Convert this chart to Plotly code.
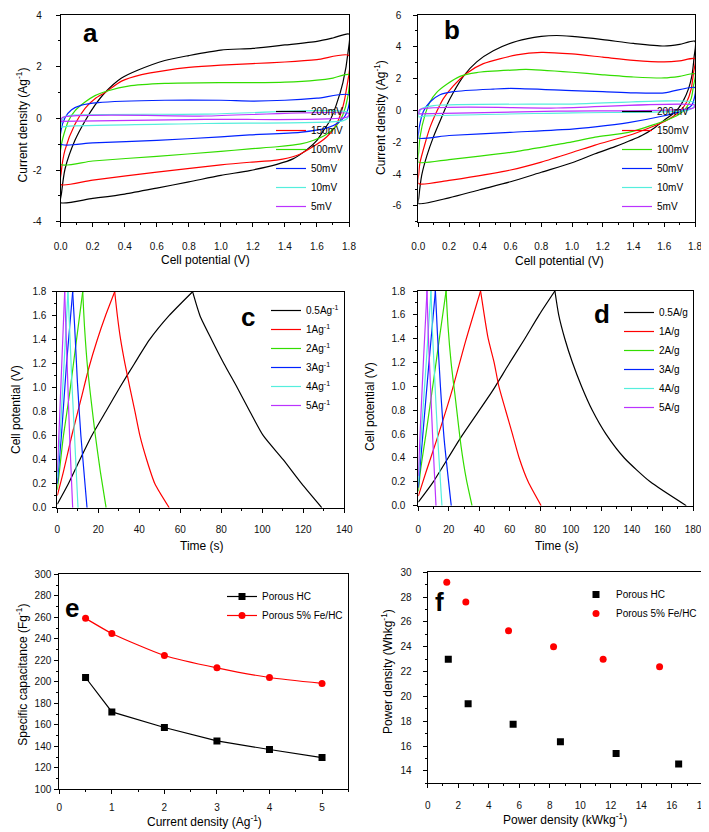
import plotly.graph_objects as go

W, H = 709, 832          # target window
OFF = 8                  # page body margin offsets the figure by 8 px
PW, PH = W - OFF, H - OFF
FONT = "Arial, 'Liberation Sans', sans-serif"

# ---------------- Panel a : CV, Porous HC ----------------
A_LABELS = ["200mV", "150mV", "100mV", "50mV", "10mV", "5mV"]
A_200_V = [0, 0.005, 0.027, 0.089, 0.152, 0.214, 0.277, 0.38, 0.484, 0.65, 0.8, 1.0, 1.2, 1.4, 1.6, 1.7, 1.8,
           1.795, 1.762, 1.72, 1.68, 1.64, 1.6, 1.535, 1.45, 1.35, 1.18, 1.0, 0.8, 0.6, 0.4, 0.2, 0]
A_200_I = [-3.26, -2.9, -1.96, -0.85, -0.1, 0.51, 1.0, 1.56, 1.87, 2.24, 2.43, 2.64, 2.71, 2.84, 2.98, 3.11, 3.26,
           2.6, 1.38, 0.51, -0.1, -0.48, -0.85, -1.22, -1.57, -1.78, -2.02, -2.21, -2.46, -2.70, -2.93, -3.1, -3.26]
A_150_V = [0, 0.003, 0.027, 0.089, 0.152, 0.214, 0.277, 0.38, 0.505, 0.65, 0.8, 1.0, 1.2, 1.4, 1.6, 1.8,
           1.784, 1.753, 1.711, 1.66, 1.577, 1.473, 1.348, 1.18, 1.0, 0.6, 0.2, 0]
A_150_I = [-2.56, -2.1, -1.22, -0.23, 0.39, 0.76, 1.0, 1.44, 1.69, 1.85, 1.97, 2.06, 2.12, 2.18, 2.27, 2.43,
           1.13, 0.26, -0.35, -0.72, -1.09, -1.44, -1.62, -1.70, -1.8, -2.08, -2.39, -2.56]
A_100_V = [0, 0.006, 0.048, 0.089, 0.152, 0.214, 0.297, 0.422, 0.65, 1.0, 1.2, 1.4, 1.6, 1.7, 1.8,
           1.79, 1.762, 1.72, 1.66, 1.58, 1.5, 1.35, 1.18, 1.0, 0.6, 0.2, 0]
A_100_I = [-1.78, -0.97, -0.1, 0.29, 0.63, 0.88, 1.07, 1.25, 1.35, 1.38, 1.38, 1.40, 1.48, 1.56, 1.69,
           0.76, 0.14, -0.3, -0.62, -0.85, -0.99, -1.1, -1.18, -1.28, -1.47, -1.65, -1.78]
A_50_V = [0, 0.002, 0.027, 0.068, 0.13, 0.234, 0.65, 1.0, 1.2, 1.4, 1.6, 1.8,
          1.795, 1.774, 1.733, 1.66, 1.493, 1.18, 1.0, 0.6, 0.2, 0]
A_50_I = [-1.0, -0.48, 0.02, 0.33, 0.51, 0.61, 0.70, 0.70, 0.67, 0.70, 0.78, 0.91,
          0.39, 0.08, -0.17, -0.38, -0.54, -0.64, -0.72, -0.85, -0.95, -1.0]
A_10_V = [0, 0.02, 0.06, 0.9, 1.8, 1.79, 1.76, 0.9, 0.05, 0]
A_10_I = [-0.33, 0.05, 0.12, 0.16, 0.22, 0.0, -0.1, -0.2, -0.3, -0.33]
A_5_V = [0, 0.01, 0.9, 1.8, 1.79, 0.9, 0]
A_5_I = [-0.14, 0.03, 0.09, 0.18, 0.05, -0.04, -0.12]

# ---------------- Panel b : CV, Porous 5% Fe/HC ----------------
B_200_V = [0, 0.003, 0.022, 0.055, 0.098, 0.141, 0.185, 0.228, 0.293, 0.38, 0.488, 0.64, 0.8, 0.9, 1.0, 1.2, 1.4, 1.6, 1.7, 1.8,
           1.794, 1.779, 1.757, 1.725, 1.692, 1.649, 1.605, 1.54, 1.454, 1.28, 1.15, 1.0, 0.8, 0.6, 0.4, 0.2, 0]
B_200_I = [-5.86, -5.5, -4.09, -2.88, -1.68, -0.68, 0.33, 1.13, 2.14, 3.05, 3.75, 4.35, 4.65, 4.71, 4.65, 4.45, 4.21, 4.05, 4.15, 4.35,
           3.35, 2.14, 1.34, 0.63, 0.13, -0.27, -0.57, -1.07, -1.58, -2.28, -2.73, -3.29, -3.89, -4.49, -4.99, -5.5, -5.86]
B_150_V = [0, 0.003, 0.011, 0.044, 0.076, 0.12, 0.163, 0.228, 0.315, 0.423, 0.64, 0.8, 1.0, 1.2, 1.4, 1.6, 1.7, 1.8,
           1.79, 1.775, 1.746, 1.709, 1.66, 1.605, 1.497, 1.367, 1.15, 1.0, 0.8, 0.6, 0.4, 0.2, 0]
B_150_I = [-4.6, -4.0, -3.29, -2.08, -1.07, -0.07, 0.74, 1.54, 2.34, 2.94, 3.49, 3.65, 3.55, 3.35, 3.15, 3.05, 3.11, 3.25,
           2.34, 1.34, 0.53, 0.03, -0.37, -0.68, -1.12, -1.58, -2.18, -2.65, -3.25, -3.75, -4.1, -4.4, -4.6]
B_100_V = [0, 0.003, 0.011, 0.044, 0.076, 0.12, 0.185, 0.271, 0.38, 0.64, 0.7, 1.0, 1.2, 1.4, 1.6, 1.7, 1.8,
           1.79, 1.775, 1.74, 1.692, 1.627, 1.54, 1.367, 1.15, 1.0, 0.8, 0.6, 0.4, 0.2, 0]
B_100_I = [-3.25, -2.6, -1.68, -0.27, 0.53, 1.13, 1.64, 2.14, 2.38, 2.55, 2.58, 2.4, 2.24, 2.1, 2.04, 2.14, 2.3,
           1.54, 0.74, 0.13, -0.27, -0.57, -0.87, -1.38, -1.68, -1.98, -2.32, -2.64, -2.88, -3.09, -3.25]
B_50_V = [0, 0.002, 0.006, 0.033, 0.076, 0.141, 0.228, 0.488, 0.6, 1.0, 1.2, 1.4, 1.6, 1.8,
          1.797, 1.779, 1.746, 1.692, 1.584, 1.367, 1.15, 1.0, 0.6, 0.2, 0]
B_50_I = [-1.74, -1.4, -1.07, -0.07, 0.53, 0.98, 1.18, 1.34, 1.38, 1.24, 1.18, 1.1, 1.1, 1.44,
          0.83, 0.33, 0.09, -0.11, -0.37, -0.77, -1.04, -1.18, -1.38, -1.58, -1.74]
B_10_V = [0, 0.02, 0.1, 1.0, 1.8, 1.79, 1.75, 1.0, 0.05, 0]
B_10_I = [-0.4, 0.1, 0.3, 0.4, 0.5, 0.2, 0.0, -0.15, -0.35, -0.4]
B_5_V = [0, 0.01, 0.9, 1.8, 1.79, 0.9, 0]
B_5_I = [-0.25, 0.05, 0.15, 0.33, 0.15, -0.05, -0.22]

# ---------------- Panel c : GCD, Porous HC ----------------
C_LABELS = ["0.5Ag<sup>-1</sup>", "1Ag<sup>-1</sup>", "2Ag<sup>-1</sup>", "3Ag<sup>-1</sup>", "4Ag<sup>-1</sup>", "5Ag<sup>-1</sup>"]
C_05_T = [0, 5.4, 11, 16.8, 23.6, 30.4, 37.6, 45, 54.5, 66, 69.6, 75.3, 81.3, 87.8, 94, 100.5, 110.2, 119.2, 129]
C_05_V = [0.03, 0.2, 0.4, 0.6, 0.8, 1.0, 1.2, 1.4, 1.6, 1.8, 1.6, 1.4, 1.2, 1.0, 0.8, 0.6, 0.4, 0.2, 0.0]
C_1_T = [0, 3, 7.2, 11.5, 15.3, 19.5, 23.5, 28, 29.3, 30.9, 33, 35.4, 37.9, 40.3, 43.6, 47.6, 54.6]
C_1_V = [0.1, 0.3, 0.61, 0.9, 1.16, 1.4, 1.6, 1.8, 1.6, 1.4, 1.2, 1.0, 0.8, 0.6, 0.4, 0.2, 0]
C_2_T = [0, 1, 3, 6, 9, 12.4, 13.3, 14.8, 16.6, 18.5, 21, 23.8]
C_2_V = [0.15, 0.3, 0.6, 0.95, 1.35, 1.8, 1.5, 1.16, 0.88, 0.61, 0.3, 0]
C_3_T = [0, 2, 4.5, 7.5, 8.5, 9.8, 11.5, 14.5]
C_3_V = [0.2, 0.6, 1.2, 1.8, 1.5, 1.05, 0.6, 0]
C_4_T = [0, 1.5, 3.3, 5.2, 6, 7.1, 8.4, 10.1]
C_4_V = [0.25, 0.65, 1.2, 1.8, 1.5, 1.05, 0.6, 0]
C_5_T = [0, 1, 2.3, 3.6, 4.2, 5.1, 6, 7.5]
C_5_V = [0.3, 0.7, 1.25, 1.8, 1.5, 1.05, 0.6, 0]

# ---------------- Panel d : GCD, Porous 5% Fe/HC ----------------
D_LABELS = ["0.5A/g", "1A/g", "2A/g", "3A/g", "4A/g", "5A/g"]
D_05_T = [0, 9.8, 27.5, 48.5, 59, 69.8, 79.2, 89.5, 92, 96, 101, 107, 114, 123, 135, 152, 175.6]
D_05_V = [0.03, 0.2, 0.565, 0.96, 1.18, 1.4, 1.6, 1.8, 1.6, 1.4, 1.2, 1.0, 0.8, 0.6, 0.4, 0.2, 0]
D_1_T = [0, 5, 12, 22, 31, 40.8, 43.2, 45.8, 49.7, 52.8, 57.2, 61.7, 66.1, 72, 80.5]
D_1_V = [0.08, 0.28, 0.55, 0.96, 1.38, 1.8, 1.6, 1.4, 1.2, 1.0, 0.8, 0.6, 0.4, 0.2, 0]
D_2_T = [0, 1.5, 5, 10, 14, 18.2, 19.5, 21.5, 24.3, 28, 31.5, 35.2]
D_2_V = [0.12, 0.3, 0.6, 1.05, 1.42, 1.8, 1.5, 1.2, 0.9, 0.5, 0.22, 0]
D_3_T = [0, 3, 7, 11.2, 12.5, 14.5, 17, 21.6]
D_3_V = [0.15, 0.6, 1.2, 1.8, 1.45, 1.0, 0.55, 0]
D_4_T = [0, 2.2, 5.2, 8.3, 9.3, 11, 12.8, 15.5]
D_4_V = [0.2, 0.65, 1.2, 1.8, 1.45, 1.0, 0.55, 0]
D_5_T = [0, 1.5, 3.5, 5.7, 6.5, 8, 9.5, 11.6]
D_5_V = [0.25, 0.7, 1.25, 1.8, 1.45, 1.0, 0.55, 0]

# ---------------- Panel e : specific capacitance ----------------
E_LABELS = ["Porous HC", "Porous 5% Fe/HC"]
E_CURRENT = [0.5, 1, 2, 3, 4, 5]
E_CAP_HC = [204, 172, 157.5, 145, 137, 129.5]
E_CAP_FE = [259, 245, 224.5, 213, 204, 198.5]

# ---------------- Panel f : Ragone ----------------
F_POWER_HC = [1.35, 2.65, 5.6, 8.7, 12.35, 16.45]
F_ENERGY_HC = [23, 19.4, 17.75, 16.35, 15.4, 14.55]
F_POWER_FE = [1.25, 2.5, 5.3, 8.25, 11.5, 15.2]
F_ENERGY_FE = [29.2, 27.6, 25.3, 24, 23, 22.4]

# tick labels
TICKS_A_Y = [-4, -2, 0, 2, 4]
TICKS_B_Y = [-6, -4, -2, 0, 2, 4, 6]

COLORS = ["#000000", "#FF0000", "#33DD00", "#0022FF", "#55EEDD", "#BB33FF"]

fig = go.Figure()


def ax_names(n):
    return ("x" if n == 1 else f"x{n}"), ("y" if n == 1 else f"y{n}")


def add_cv(xs, ys, labels, n, legend):
    xa, ya = ax_names(n)
    for x, y, lab, col in zip(xs, ys, labels, COLORS):
        fig.add_trace(go.Scatter(
            x=x, y=y, mode="lines", name=lab,
            line=dict(color=col, width=1.2, shape="spline", smoothing=0.7),
            xaxis=xa, yaxis=ya, legend=legend))


def add_gcd(xs, ys, labels, n, legend):
    xa, ya = ax_names(n)
    for x, y, lab, col in zip(xs, ys, labels, COLORS):
        k = y.index(max(y))
        for part, (px, py) in enumerate([(x[:k + 1], y[:k + 1]), (x[k:], y[k:])]):
            fig.add_trace(go.Scatter(
                x=px, y=py, mode="lines", name=lab, legendgroup=f"{legend}-{lab}",
                showlegend=(part == 0),
                line=dict(color=col, width=1.2, shape="spline", smoothing=0.6),
                xaxis=xa, yaxis=ya, legend=legend))


add_cv([A_200_V, A_150_V, A_100_V, A_50_V, A_10_V, A_5_V],
       [A_200_I, A_150_I, A_100_I, A_50_I, A_10_I, A_5_I], A_LABELS, 1, "legend")
add_cv([B_200_V, B_150_V, B_100_V, B_50_V, B_10_V, B_5_V],
       [B_200_I, B_150_I, B_100_I, B_50_I, B_10_I, B_5_I], A_LABELS, 2, "legend2")
add_gcd([C_05_T, C_1_T, C_2_T, C_3_T, C_4_T, C_5_T],
        [C_05_V, C_1_V, C_2_V, C_3_V, C_4_V, C_5_V], C_LABELS, 3, "legend3")
add_gcd([D_05_T, D_1_T, D_2_T, D_3_T, D_4_T, D_5_T],
        [D_05_V, D_1_V, D_2_V, D_3_V, D_4_V, D_5_V], D_LABELS, 4, "legend4")

fig.add_trace(go.Scatter(x=E_CURRENT, y=E_CAP_HC, mode="lines+markers", name=E_LABELS[0],
                         line=dict(color="black", width=1.2),
                         marker=dict(symbol="square", size=7, color="black"),
                         xaxis="x5", yaxis="y5", legend="legend5"))
fig.add_trace(go.Scatter(x=E_CURRENT, y=E_CAP_FE, mode="lines+markers", name=E_LABELS[1],
                         line=dict(color="#FF0000", width=1.2, shape="spline", smoothing=0.6),
                         marker=dict(symbol="circle", size=7, color="#FF0000"),
                         xaxis="x5", yaxis="y5", legend="legend5"))
fig.add_trace(go.Scatter(x=F_POWER_HC, y=F_ENERGY_HC, mode="markers", name=E_LABELS[0],
                         marker=dict(symbol="square", size=7, color="black"),
                         xaxis="x6", yaxis="y6", legend="legend6"))
fig.add_trace(go.Scatter(x=F_POWER_FE, y=F_ENERGY_FE, mode="markers", name=E_LABELS[1],
                         marker=dict(symbol="circle", size=7, color="#FF0000"),
                         xaxis="x6", yaxis="y6", legend="legend6"))


def px_x(p):
    return min(max((p - OFF) / PW, 0.0), 1.0)


def px_y(p):
    return min(max(1 - (p - OFF) / PH, 0.0), 1.0)


def axis(dom, rng, dtick, minor, standoff, anchor, fmt=None, tickvals=None, ticktext=None):
    d = dict(domain=dom, range=rng, anchor=anchor, showline=True, mirror=True,
             linecolor="black", linewidth=1, ticks="outside", ticklen=4, tickwidth=1,
             tickcolor="black", showgrid=False, zeroline=False, automargin=False,
             ticklabeloverflow="allow",
             tickfont=dict(family=FONT, size=10, color="#111"),
             minor=dict(ticks="outside", ticklen=2, tickwidth=1, tickcolor="black", dtick=minor),
             ticklabelstandoff=standoff)
    if tickvals is not None:
        d.update(tickmode="array", tickvals=tickvals, ticktext=ticktext)
    else:
        d.update(tick0=0, dtick=dtick)
    if fmt:
        d["tickformat"] = fmt
    return d


layout = dict(
    width=PW, height=PH, margin=dict(l=0, r=0, t=0, b=0, pad=0, autoexpand=False), autosize=False,
    paper_bgcolor="white", plot_bgcolor="white", font=dict(family=FONT, color="black"),
)

# panel a
layout["xaxis"] = axis([px_x(60.7), px_x(349)], [0, 1.8], 0.2, 0.1, 11, "y", ".1f")
layout["yaxis"] = axis([px_y(221.7), px_y(15)], [-4, 4], 2, 1, 12, "x",
                       tickvals=TICKS_A_Y, ticktext=[str(v) for v in TICKS_A_Y])
# panel b
layout["xaxis2"] = axis([px_x(418.3), px_x(695)], [0, 1.8], 0.2, 0.1, 11, "y2", ".1f")
layout["yaxis2"] = axis([px_y(221.7), px_y(15)], [-7, 6], 2, 1, 10, "x2",
                        tickvals=TICKS_B_Y, ticktext=[str(v) for v in TICKS_B_Y])
# panel c
layout["xaxis3"] = axis([px_x(57.3), px_x(344.3)], [0, 140], 20, 10, 8, "y3")
layout["yaxis3"] = axis([px_y(507.7), px_y(291.7)], [0, 1.8], 0.2, 0.1, 4, "x3", ".1f")
# panel d
layout["xaxis4"] = axis([px_x(418.3), px_x(693)], [0, 180], 20, 10, 10, "y4")
layout["yaxis4"] = axis([px_y(505.7), px_y(291)], [0, 1.8], 0.2, 0.1, 6, "x4", ".1f")
# panel e
layout["xaxis5"] = axis([px_x(59.3), px_x(348.3)], [0, 5.5], 1, 0.5, 5, "y5")
layout["yaxis5"] = axis([px_y(789.3), px_y(574.3)], [100, 300], 20, 10, 1, "x5")
# panel f
layout["xaxis6"] = axis([px_x(427.7), px_x(702.3)], [0, 18], 2, 1, 9, "y6")
layout["yaxis6"] = axis([px_y(783.3), px_y(572.3)], [13, 30], 2, 1, 9, "x6")

leg = dict(bgcolor="rgba(0,0,0,0)", borderwidth=0, font=dict(family=FONT, size=10, color="black"),
           itemwidth=30, tracegroupgap=0)
layout["legend"] = dict(leg, x=px_x(349), xanchor="right", y=px_y(221), yanchor="bottom")
layout["legend2"] = dict(leg, x=px_x(695), xanchor="right", y=px_y(221), yanchor="bottom")
layout["legend3"] = dict(leg, x=px_x(344), xanchor="right", y=px_y(296), yanchor="top")
layout["legend4"] = dict(leg, x=px_x(693), xanchor="right", y=px_y(298), yanchor="top")
layout["legend5"] = dict(leg, x=px_x(348), xanchor="right", y=px_y(582), yanchor="top")
layout["legend6"] = dict(leg, x=px_x(702), xanchor="right", y=px_y(580), yanchor="top")

fig.update_layout(**layout)

# axis titles and panel letters (text)
titles = [
    ("Cell potential (V)", 205, 260, 0),
    ("Current density (Ag<sup>-1</sup>)", 21.7, 124.7, -90),
    ("Cell potential (V)", 559, 261, 0),
    ("Current density (Ag<sup>-1</sup>)", 380, 118, -90),
    ("Time (s)", 202, 546, 0),
    ("Cell potential (V)", 16, 410, -90),
    ("Time (s)", 557, 546, 0),
    ("Cell potential (V)", 370, 407, -90),
    ("Current density (Ag<sup>-1</sup>)", 204, 821, 0),
    ("Specific capacitance (Fg<sup>-1</sup>)", 21.7, 675, -90),
    ("Power density (kWkg<sup>-1</sup>)", 565, 819, 0),
    ("Power density (Whkg<sup>-1</sup>)", 387, 672, -90),
]
for txt, x, y, ang in titles:
    fig.add_annotation(text=txt, x=px_x(x), y=px_y(y), xref="paper", yref="paper",
                       showarrow=False, textangle=ang, xanchor="center", yanchor="middle",
                       font=dict(family=FONT, size=12, color="black"))

letters = [("a", 90, 33), ("b", 451.7, 30), ("c", 248.3, 316.7),
           ("d", 601.7, 314.3), ("e", 71.7, 608.3), ("f", 440, 601.7)]
for txt, x, y in letters:
    fig.add_annotation(text=f"<b>{txt}</b>", x=px_x(x), y=px_y(y), xref="paper", yref="paper",
                       showarrow=False, xanchor="center", yanchor="middle",
                       font=dict(family=FONT, size=26, color="black"))

fig.write_html("out.html")
